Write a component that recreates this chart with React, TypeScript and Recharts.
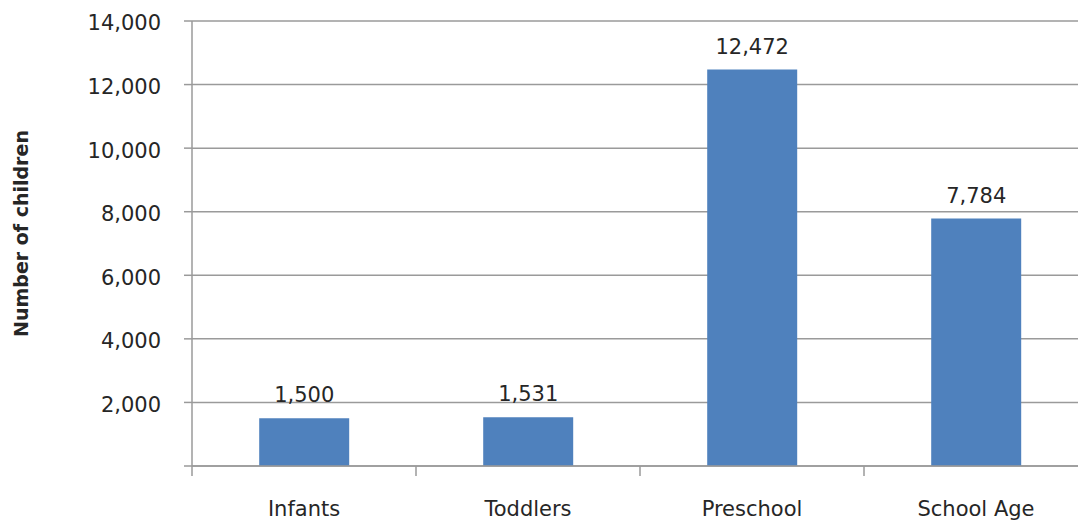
import { BarChart, Bar, XAxis, YAxis, CartesianGrid, LabelList, Label } from "recharts";

const groups = ["Infants", "Toddlers", "Preschool", "School Age"];
const children = [1500, 1531, 12472, 7784];
const yTicks = [0, 2000, 4000, 6000, 8000, 10000, 12000, 14000];

const FONT = "'DejaVu Sans', Verdana, sans-serif";
const TEXT = "#262626";
const LINE = "#9a9a9a";
const BAR = "#4f81bd";

const W = 1100;
const H = 521;
const M = { top: 21, right: 12, left: 0, bottom: 0 };
const Y_W = 192;
const X_H = 55;
const BAND = (W - M.left - M.right - Y_W) / groups.length;

const rows = groups.map((g, i) => ({ group: g, value: children[i] }));
const fmt = (v: number) => v.toLocaleString("en-US");
// the zero tick keeps its tick mark but has no label
const yFmt = (v: number) => (v === 0 ? "" : fmt(v));

// Category tick: tick mark sits on the left edge of each band, label in the middle
function GroupTick(props: any) {
  const { x, y, payload } = props;
  const left = x - BAND / 2;
  return (
    <g>
      <line x1={left} x2={left} y1={y - 8} y2={y + 2} stroke={LINE} strokeWidth={1.5} />
      <text
        x={x}
        y={y + 42}
        textAnchor="middle"
        fontFamily={FONT}
        fontSize={21}
        fill={TEXT}
      >
        {payload.value}
      </text>
    </g>
  );
}

function AxisTitle(props: any) {
  const { viewBox } = props;
  const cy = viewBox.y + viewBox.height / 2 - 10;
  return (
    <text
      x={0}
      y={0}
      transform={`translate(28, ${cy}) rotate(-90)`}
      textAnchor="middle"
      fontFamily={FONT}
      fontSize={19}
      fontWeight="bold"
      fill={TEXT}
    >
      Number of children
    </text>
  );
}

export default function App() {
  return (
    <div style={{ position: "absolute", left: 0, top: 0, width: 1078, height: 521, overflow: "hidden", background: "#fff" }}>
      <BarChart width={W} height={H} data={rows} margin={M} barCategoryGap="30%">
        <CartesianGrid vertical={false} stroke={LINE} strokeWidth={1.5} />
        <XAxis
          dataKey="group"
          height={X_H}
          axisLine={{ stroke: LINE, strokeWidth: 1.5 }}
          tickLine={false}
          tick={<GroupTick />}
          interval={0}
        />
        <YAxis
          width={Y_W}
          domain={[0, 14000]}
          ticks={yTicks}
          tickFormatter={yFmt}
          axisLine={{ stroke: LINE, strokeWidth: 1.5 }}
          tickLine={{ stroke: LINE, strokeWidth: 1.5 }}
          tickSize={8}
          tickMargin={23}
          tick={{ fontFamily: FONT, fontSize: 21, fill: TEXT, dy: 2 }}
        >
          <Label content={<AxisTitle />} />
        </YAxis>
        <Bar dataKey="value" fill={BAR} isAnimationActive={false}>
          <LabelList
            dataKey="value"
            position="top"
            offset={16}
            formatter={(v: any) => fmt(Number(v))}
            style={{ fontFamily: FONT, fontSize: 21, fill: TEXT }}
          />
        </Bar>
      </BarChart>
    </div>
  );
}
